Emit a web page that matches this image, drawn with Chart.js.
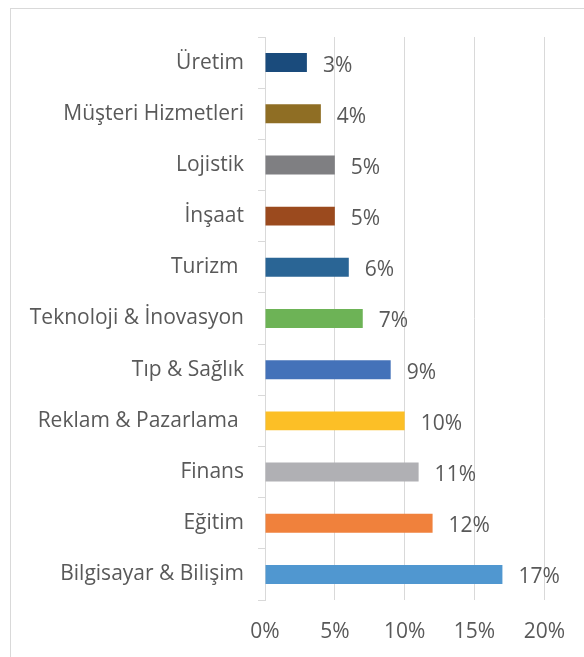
<!DOCTYPE html>
<html>
<head>
<meta charset="utf-8">
<script src="https://cdn.jsdelivr.net/npm/chart.js@4"></script>
<style>
  html, body { margin: 0; padding: 0; background: #fff; }
  #wrap { width: 584px; height: 657px; }
</style>
</head>
<body>
<div id="wrap"><canvas id="sectorChart" width="584" height="657"></canvas></div>
<script>
const categories = ['Üretim', 'Müşteri Hizmetleri', 'Lojistik', 'İnşaat', 'Turizm ', 'Teknoloji & İnovasyon', 'Tıp & Sağlık', 'Reklam & Pazarlama ', 'Finans', 'Eğitim', 'Bilgisayar & Bilişim'];
const shares = [3, 4, 5, 5, 6, 7, 9, 10, 11, 12, 17];
const barColors = ['#1a4b7c', '#8f6e24', '#7f7f82', '#9b4a1e', '#2a6595', '#6db356', '#4472b9', '#fcbf26', '#b0b0b4', '#f0813c', '#5097d0'];
const xTicks = [0, 5, 10, 15, 20];

Chart.defaults.font.family = "'Open Sans', 'Noto Sans', sans-serif";
Chart.defaults.color = '#595959';

// frame around the chart, cut off at right/bottom like the source image
const framePlugin = {
  id: 'frame',
  beforeDraw(chart) {
    const ctx = chart.ctx;
    ctx.save();
    ctx.fillStyle = '#fff';
    ctx.fillRect(0, 0, chart.width, chart.height);
    ctx.strokeStyle = '#d9d9d9';
    ctx.lineWidth = 1;
    ctx.strokeRect(10.5, 8.5, 700, 800);
    ctx.restore();
  }
};

// percentage labels right of each bar
const valueLabels = {
  id: 'valueLabels',
  afterDatasetsDraw(chart) {
    const ctx = chart.ctx;
    const meta = chart.getDatasetMeta(0);
    ctx.save();
    ctx.font = "21px 'Open Sans', 'Noto Sans', sans-serif";
    ctx.fillStyle = '#595959';
    ctx.textAlign = 'left';
    ctx.textBaseline = 'middle';
    meta.data.forEach((bar, i) => {
      ctx.fillText(shares[i] + '%', bar.x + 16, bar.y + 3);
    });
    ctx.restore();
  }
};

new Chart(document.getElementById('sectorChart'), {
  type: 'bar',
  data: {
    labels: categories,
    datasets: [{
      data: shares,
      backgroundColor: barColors,
      borderWidth: 0,
      categoryPercentage: 1,
      barPercentage: 0.37
    }]
  },
  options: {
    indexAxis: 'y',
    responsive: false,
    animation: false,
    layout: { padding: { top: 37, right: 37, left: 0, bottom: 0 } },
    plugins: {
      legend: { display: false },
      tooltip: { enabled: false }
    },
    scales: {
      x: {
        min: 0,
        max: 20,
        afterBuildTicks(scale) { scale.ticks = xTicks.map(v => ({ value: v })); },
        afterFit(scale) { scale.height = 57; },
        grid: { color: '#d9d9d9', lineWidth: 1, drawTicks: false },
        border: { display: false },
        ticks: {
          padding: 19,
          font: { size: 21 },
          color: '#595959',
          callback: v => v + '%'
        }
      },
      y: {
        offset: true,
        afterFit(scale) { scale.width = 265; },
        grid: {
          offset: true,
          drawOnChartArea: false,
          drawTicks: true,
          tickLength: 7,
          color: '#d9d9d9'
        },
        border: { display: true, color: '#d9d9d9', width: 1 },
        ticks: {
          padding: 14,
          autoSkip: false,
          font: { size: 21 },
          color: '#595959'
        }
      }
    }
  },
  plugins: [framePlugin, valueLabels]
});
</script>
</body>
</html>
